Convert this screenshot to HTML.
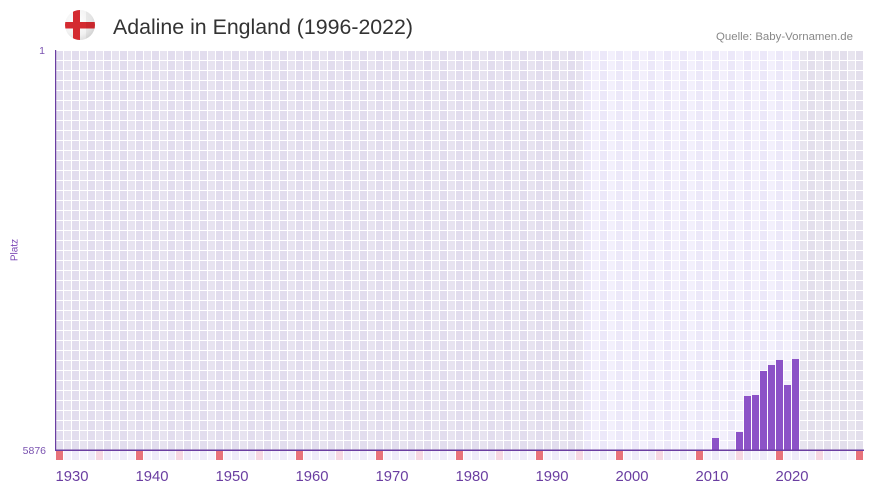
<!DOCTYPE html>
<html>
<head>
<meta charset="utf-8">
<style>
  html,body{margin:0;padding:0;background:#fff;}
  svg{display:block;}
  text{font-family:"Liberation Sans","DejaVu Sans",sans-serif;}
</style>
</head>
<body>
<svg width="873" height="492" viewBox="0 0 873 492" xmlns="http://www.w3.org/2000/svg">
  <defs>
    <pattern id="pDark" patternUnits="userSpaceOnUse" x="56" y="50" width="16" height="10">
      <rect x="0" y="0" width="16" height="10" fill="#ffffff"/>
      <rect x="0" y="1" width="7" height="9" fill="#e2ddee"/>
      <rect x="8" y="1" width="7" height="9" fill="#e7e3f0"/>
    </pattern>
    <pattern id="pLight" patternUnits="userSpaceOnUse" x="56" y="50" width="16" height="10">
      <rect x="0" y="0" width="16" height="10" fill="#ffffff"/>
      <rect x="0" y="1" width="7" height="9" fill="#ece8f9"/>
      <rect x="8" y="1" width="7" height="9" fill="#f3f0fc"/>
    </pattern>
    <pattern id="pGray" patternUnits="userSpaceOnUse" x="56" y="50" width="16" height="10">
      <rect x="0" y="0" width="16" height="10" fill="#ffffff"/>
      <rect x="0" y="1" width="7" height="9" fill="#e3dfec"/>
      <rect x="8" y="1" width="7" height="9" fill="#e8e5ef"/>
    </pattern>
    <pattern id="pStrip" patternUnits="userSpaceOnUse" x="56" y="451" width="16" height="10">
      <rect x="0" y="0" width="16" height="10" fill="#ffffff"/>
      <rect x="0" y="0" width="7" height="9" fill="#eeeaf9"/>
      <rect x="8" y="0" width="7" height="9" fill="#f4f2fc"/>
    </pattern>
    <radialGradient id="flagG" cx="0.4" cy="0.35" r="0.7">
      <stop offset="0" stop-color="#ffffff"/>
      <stop offset="0.7" stop-color="#f1f1f1"/>
      <stop offset="1" stop-color="#dcdcdc"/>
    </radialGradient>
    <clipPath id="flagClip"><circle cx="80" cy="25" r="15"/></clipPath>
  </defs>

  <!-- Header -->
  <circle cx="80" cy="25" r="15" fill="url(#flagG)"/>
  <g clip-path="url(#flagClip)">
    <rect x="73" y="8" width="7" height="34" fill="#d42a30"/>
    <rect x="63" y="22" width="34" height="6.5" fill="#d42a30"/>
    <rect x="86" y="8" width="12" height="34" fill="#000" opacity="0.05"/>
  </g>
  <text x="113" y="34" font-size="21" fill="#333333" textLength="300" lengthAdjust="spacingAndGlyphs">Adaline in England (1996-2022)</text>
  <text x="716" y="40" font-size="11" fill="#888888" textLength="137" lengthAdjust="spacingAndGlyphs">Quelle: Baby-Vornamen.de</text>

  <!-- Plot regions -->
  <rect x="56" y="50" width="528" height="400" fill="url(#pDark)"/>
  <rect x="584" y="50" width="216" height="400" fill="url(#pLight)"/>
  <rect x="800" y="50" width="64" height="400" fill="url(#pGray)"/>

  <!-- Bars -->
  <g fill="#8c53c7">
    <rect x="712" y="438" width="7" height="12"/>
    <rect x="736" y="432" width="7" height="18"/>
    <rect x="744" y="396" width="7" height="54"/>
    <rect x="752" y="395" width="7" height="55"/>
    <rect x="760" y="371" width="7" height="79"/>
    <rect x="768" y="365" width="7" height="85"/>
    <rect x="776" y="360" width="7" height="90"/>
    <rect x="784" y="385" width="7" height="65"/>
    <rect x="792" y="359" width="7" height="91"/>
  </g>

  <!-- Strip below axis -->
  <rect x="56" y="451" width="808" height="9" fill="url(#pStrip)"/>
  <g fill="#e8737b">
    <rect x="56" y="451" width="7" height="9"/>
    <rect x="136" y="451" width="7" height="9"/>
    <rect x="216" y="451" width="7" height="9"/>
    <rect x="296" y="451" width="7" height="9"/>
    <rect x="376" y="451" width="7" height="9"/>
    <rect x="456" y="451" width="7" height="9"/>
    <rect x="536" y="451" width="7" height="9"/>
    <rect x="616" y="451" width="7" height="9"/>
    <rect x="696" y="451" width="7" height="9"/>
    <rect x="776" y="451" width="7" height="9"/>
    <rect x="856" y="451" width="7" height="9"/>
  </g>
  <g fill="#f6d7e2">
    <rect x="96" y="451" width="7" height="9"/>
    <rect x="176" y="451" width="7" height="9"/>
    <rect x="256" y="451" width="7" height="9"/>
    <rect x="336" y="451" width="7" height="9"/>
    <rect x="416" y="451" width="7" height="9"/>
    <rect x="496" y="451" width="7" height="9"/>
    <rect x="576" y="451" width="7" height="9"/>
    <rect x="656" y="451" width="7" height="9"/>
    <rect x="736" y="451" width="7" height="9"/>
    <rect x="816" y="451" width="7" height="9"/>
  </g>

  <!-- Axes -->
  <rect x="55" y="50" width="1.2" height="401" fill="#6a3ea1"/>
  <rect x="55" y="449.5" width="809" height="1.5" fill="#6a3ea1"/>

  <!-- Y labels -->
  <text x="45" y="54" font-size="10.5" fill="#7a52b0" text-anchor="end">1</text>
  <text x="46" y="454" font-size="10.5" fill="#7a52b0" text-anchor="end">5876</text>
  <text transform="translate(17.5,250) rotate(-90)" font-size="10" fill="#7a45b5" text-anchor="middle">Platz</text>

  <!-- X labels -->
  <g font-size="15" fill="#6a3ea1" text-anchor="middle">
    <text x="72" y="481" textLength="33" lengthAdjust="spacingAndGlyphs">1930</text>
    <text x="152" y="481" textLength="33" lengthAdjust="spacingAndGlyphs">1940</text>
    <text x="232" y="481" textLength="33" lengthAdjust="spacingAndGlyphs">1950</text>
    <text x="312" y="481" textLength="33" lengthAdjust="spacingAndGlyphs">1960</text>
    <text x="392" y="481" textLength="33" lengthAdjust="spacingAndGlyphs">1970</text>
    <text x="472" y="481" textLength="33" lengthAdjust="spacingAndGlyphs">1980</text>
    <text x="552" y="481" textLength="33" lengthAdjust="spacingAndGlyphs">1990</text>
    <text x="632" y="481" textLength="33" lengthAdjust="spacingAndGlyphs">2000</text>
    <text x="712" y="481" textLength="33" lengthAdjust="spacingAndGlyphs">2010</text>
    <text x="792" y="481" textLength="33" lengthAdjust="spacingAndGlyphs">2020</text>
  </g>
</svg>
</body>
</html>
